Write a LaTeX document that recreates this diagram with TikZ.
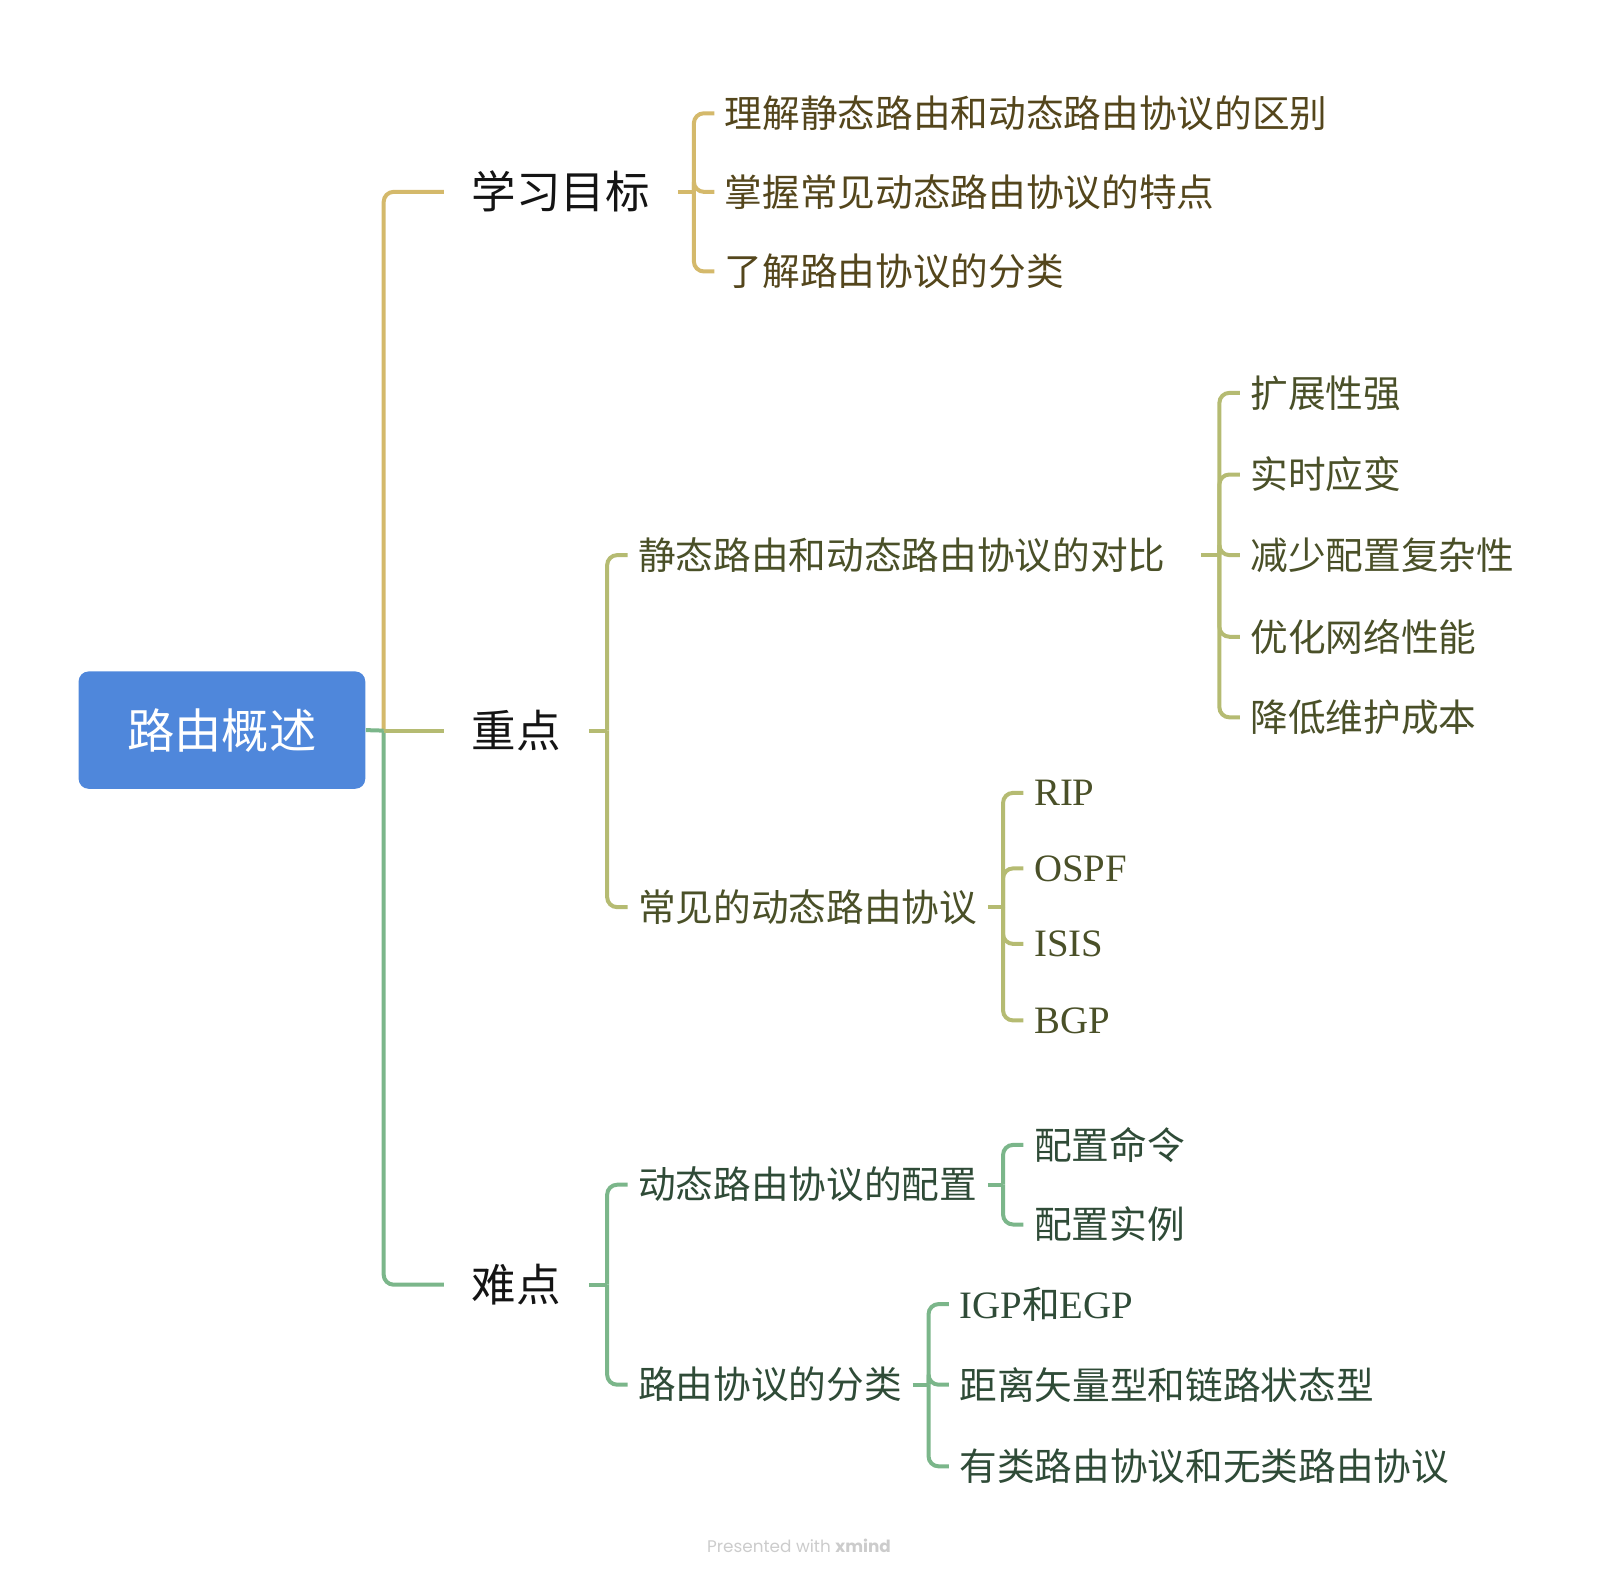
\documentclass[tikz,border=0pt]{standalone}
\usepackage{fontspec}
\setmainfont{Noto Sans CJK SC}
\newfontfamily\latfont[Scale=1.03]{Liberation Serif}
\newfontfamily\footfont{Poppins}
\usepackage{tikz}
\usetikzlibrary{positioning}
\definecolor{rootcol}{HTML}{4F87DB}
\definecolor{goalcol}{HTML}{D4B96B}
\definecolor{keycol}{HTML}{B5BB72}
\definecolor{hardcol}{HTML}{7BB68A}
\definecolor{goaltxt}{HTML}{54461C}
\definecolor{keytxt}{HTML}{4A5028}
\definecolor{hardtxt}{HTML}{2F4B37}

\begin{document}
\begin{tikzpicture}[x=0.30612pt,y=-0.30612pt,
   rootbox/.style={rounded corners=3pt,fill=rootcol,text=white,
              minimum width=86pt,minimum height=35.2pt,inner sep=0pt,
              font=\fontsize{14.2}{16}\selectfont},
   topic/.style={anchor=west,inner xsep=8.2pt,inner ysep=2pt,text=black!92,
              font=\fontsize{13.35}{15}\selectfont},
   leaf/.style={anchor=west,inner xsep=3pt,inner ysep=2pt,
              font=\fontsize{11.3}{13}\selectfont},
   goalln/.style={draw=goalcol,line width=1.2pt,rounded corners=3pt},
   keyln/.style={draw=keycol,line width=1.2pt,rounded corners=3pt},
   hardln/.style={draw=hardcol,line width=1.2pt,rounded corners=3pt},
]
\useasboundingbox (0,0) rectangle (1568,1546);

% central topic
\node[rootbox] (root) at (217.5,715.5) {路由概述};

% main topics
\node[topic] (goal) at (435,188)  {学习目标};
\node[topic] (key)  at (435,716)  {重点};
\node[topic] (hard) at (435,1259) {难点};

% goals
\node[leaf,text=goaltxt] (g1) at (700,111) {理解静态路由和动态路由协议的区别};
\node[leaf,text=goaltxt] (g2) at (700,188) {掌握常见动态路由协议的特点};
\node[leaf,text=goaltxt] (g3) at (700,266) {了解路由协议的分类};

% key points
\node[leaf,text=keytxt] (cmp) at (615,544) {静态路由和动态路由协议的对比};
\node[leaf,text=keytxt] (dyn) at (615,889) {常见的动态路由协议};
\node[leaf,text=keytxt] (c1) at (1215,385) {扩展性强};
\node[leaf,text=keytxt] (c2) at (1215,465) {实时应变};
\node[leaf,text=keytxt] (c3) at (1215,544) {减少配置复杂性};
\node[leaf,text=keytxt] (c4) at (1215,624) {优化网络性能};
\node[leaf,text=keytxt] (c5) at (1215,703) {降低维护成本};
\node[leaf,text=keytxt] (p1) at (1003,777)  {\latfont RIP};
\node[leaf,text=keytxt] (p2) at (1003,851)  {\latfont OSPF};
\node[leaf,text=keytxt] (p3) at (1003,925)  {\latfont ISIS};
\node[leaf,text=keytxt] (p4) at (1003,1000) {\latfont BGP};

% difficulties
\node[leaf,text=hardtxt] (cfg) at (615,1161) {动态路由协议的配置};
\node[leaf,text=hardtxt] (cls) at (615,1357) {路由协议的分类};
\node[leaf,text=hardtxt] (f1) at (1003,1122) {配置命令};
\node[leaf,text=hardtxt] (f2) at (1003,1200) {配置实例};
\node[leaf,text=hardtxt] (k1) at (930,1278) {{\latfont IGP}和{\latfont EGP}};
\node[leaf,text=hardtxt] (k2) at (930,1357) {距离矢量型和链路状态型};
\node[leaf,text=hardtxt] (k3) at (930,1437) {有类路由协议和无类路由协议};

\node[font=\footfont\fontsize{5.05}{6.5}\selectfont,text=black!20] (foot) at (783,1515)
     {Presented with \textbf{xmind}};

% branch points
\coordinate (trunk) at (376,716);
\coordinate (gbar)  at (680,188);
\coordinate (kbar)  at (595,716);
\coordinate (cbar)  at (1195,544);
\coordinate (pbar)  at (983,889);
\coordinate (hbar)  at (595,1259);
\coordinate (fbar)  at (983,1161);
\coordinate (sbar)  at (910,1357);

% trunk
\draw[goalln] (trunk) |- (goal.west);
\draw[hardln] (trunk) |- (hard.west);
\draw[keyln]  (trunk) -- (key.west);
\draw[hardln] (root.east) -- (trunk);

% goal branch
\draw[goalln] (goal.east) -- (gbar);
\foreach \n in {g1,g2,g3} \draw[goalln] (gbar) |- (\n.west);

% key branch
\draw[keyln] (key.east) -- (kbar);
\foreach \n in {cmp,dyn} \draw[keyln] (kbar) |- (\n.west);
\draw[keyln] ([xshift=7.5pt]cmp.east) -- (cbar);
\foreach \n in {c1,c2,c3,c4,c5} \draw[keyln] (cbar) |- (\n.west);
\draw[keyln] (dyn.east) -- (pbar);
\foreach \n in {p1,p2,p3,p4} \draw[keyln] (pbar) |- (\n.west);

% hard branch
\draw[hardln] (hard.east) -- (hbar);
\foreach \n in {cfg,cls} \draw[hardln] (hbar) |- (\n.west);
\draw[hardln] (cfg.east) -- (fbar);
\foreach \n in {f1,f2} \draw[hardln] (fbar) |- (\n.west);
\draw[hardln] (cls.east) -- (sbar);
\foreach \n in {k1,k2,k3} \draw[hardln] (sbar) |- (\n.west);
\end{tikzpicture}
\end{document}
